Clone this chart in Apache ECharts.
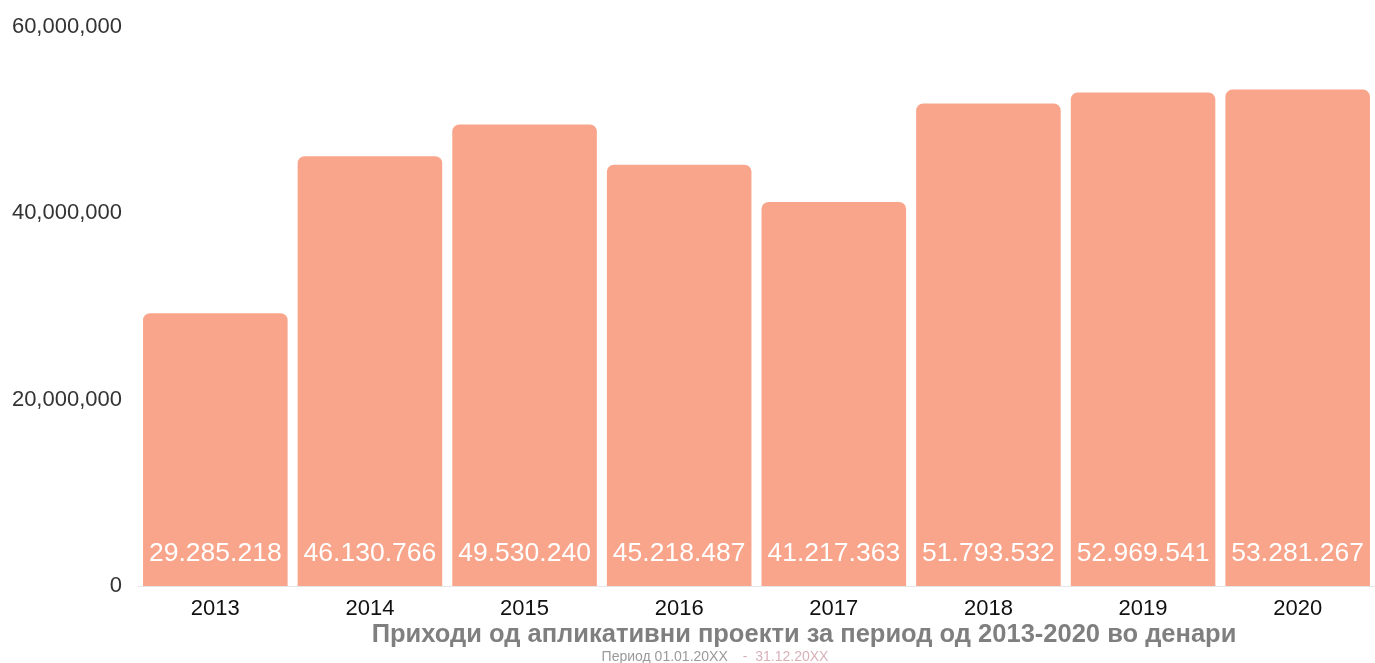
<!DOCTYPE html>
<html><head><meta charset="utf-8">
<script src="https://cdn.jsdelivr.net/npm/echarts@6/dist/echarts.min.js"></script>
<style>html,body{margin:0;padding:0;background:#fff;}#c{width:1375px;height:663px;}</style>
</head><body><div id="c"></div>
<script>
const categories = ['2013','2014','2015','2016','2017','2018','2019','2020'];
const values = [29285218, 46130766, 49530240, 45218487, 41217363, 51793532, 52969541, 53281267];
const yTicks = [0, 20000000, 40000000, 60000000];
const titleText = 'Приходи од апликативни проекти за период од 2013-2020 во денари';
const subPart1 = 'Период 01.01.20XX';
const subPart2 = '-  31.12.20XX';

function dotFmt(v){ return String(v).replace(/\B(?=(\d{3})+(?!\d))/g, '.'); }
function commaFmt(v){ return String(v).replace(/\B(?=(\d{3})+(?!\d))/g, ','); }

const chart = echarts.init(document.getElementById('c'));
chart.setOption({
  animation: false,
  textStyle: { fontFamily: 'Liberation Sans, Arial, sans-serif' },
  title: [{
    text: titleText,
    left: 799, top: 617, textAlign: 'center',
    textStyle: { fontSize: 25.5, fontWeight: 'bold', color: '#7f7f7f', fontFamily: 'Liberation Sans, Arial, sans-serif' }
  },{
    text: '{a|' + subPart1 + '}   {b|' + subPart2 + '}',
    left: 710, top: 643, textAlign: 'center',
    textStyle: { fontWeight: 'normal', rich: {
      a: { fontSize: 14, fontWeight: 'normal', color: '#9a9a9a', fontFamily: 'Liberation Sans, Arial, sans-serif' },
      b: { fontSize: 14, fontWeight: 'normal', color: '#d8b0b8', fontFamily: 'Liberation Sans, Arial, sans-serif' }
    } }
  }],
  grid: { left: 138, right: -6, top: 27, bottom: 77, containLabel: false },
  xAxis: {
    type: 'category', data: categories,
    axisLine: { show: true, lineStyle: { color: '#e6e6e6', width: 1 } },
    axisTick: { show: false },
    axisLabel: { color: '#111', fontSize: 22, margin: 12 }
  },
  yAxis: {
    type: 'value', min: 0, max: 60000000, interval: 20000000,
    splitLine: { show: false },
    axisLine: { show: false }, axisTick: { show: false },
    axisLabel: { color: '#333', fontSize: 22, margin: 16,
      formatter: v => yTicks.includes(v) ? commaFmt(v) : '' }
  },
  series: [{
    type: 'bar', data: values, barCategoryGap: '6.5%',
    itemStyle: { color: '#f9a58b', borderRadius: [7,7,0,0] },
    label: { show: true, position: 'insideBottom', distance: 19, color: '#fff',
      fontSize: 26.5, formatter: p => dotFmt(p.value) }
  }]
});
</script></body></html>
